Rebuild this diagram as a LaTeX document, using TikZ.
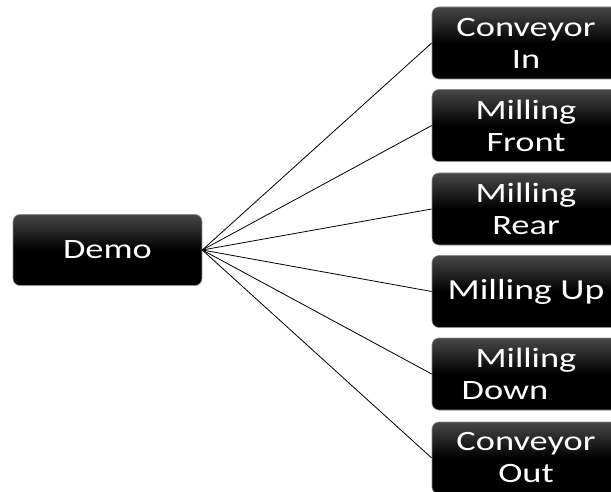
\documentclass[tikz,border=0pt]{standalone}
\usepackage{fontspec}
\setmainfont{Carlito}[FakeStretch=1.3]
\begin{document}
\begin{tikzpicture}[x=1pt,y=-1pt,
  box/.style={rectangle, rounded corners=7pt, draw=black!45, line width=0.6pt,
    top color=black!72, bottom color=black, middle color=black,
    text=white, align=center, inner sep=0pt,
    font=\fontsize{28}{32}\selectfont},
  rbox/.style={box, minimum width=188pt, minimum height=72pt},
  link/.style={draw=black, line width=0.8pt}]
\useasboundingbox (0,0) rectangle (611,492);
\clip (0,0) rectangle (611,492);
\node[box, minimum width=189pt, minimum height=71pt] (demo) at (107.5,250) {Demo};
\node[rbox] (c1) at (526,43) {Conveyor\\In};
\node[rbox] (c2) at (526,125.5) {Milling\\Front};
\node[rbox] (c3) at (526,209) {Milling\\Rear};
\node[rbox, font=\fontsize{29}{32}\selectfont] (c4) at (526,291.5) {Milling Up};
\node[rbox] (c5) at (526,374) {Milling\\\hspace*{-42pt}Down};
\node[rbox] (c6) at (526,458) {Conveyor\\Out};
\foreach \n in {c1,c2,c3,c4,c5,c6}
  \draw[link] (demo.east) -- (\n.west);
\end{tikzpicture}
\end{document}
